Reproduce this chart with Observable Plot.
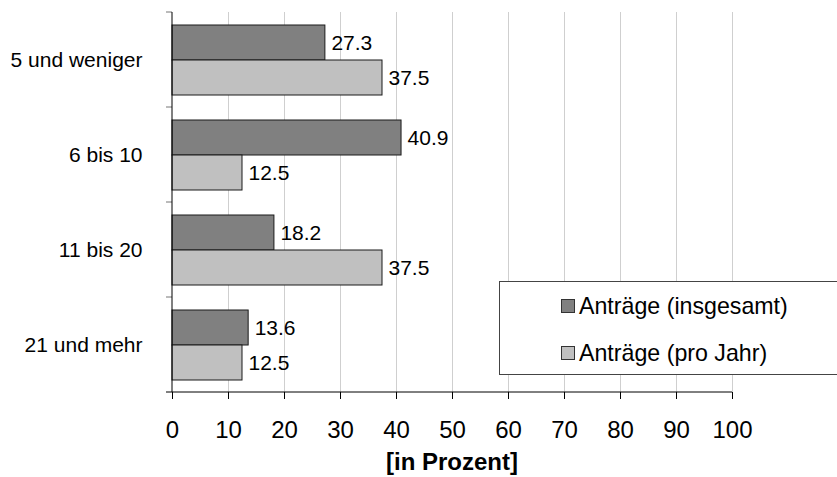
<!DOCTYPE html>
<html>
<head>
<meta charset="utf-8">
<script src="https://cdn.jsdelivr.net/npm/d3@7"></script>
<script src="https://cdn.jsdelivr.net/npm/@observablehq/plot@0.6"></script>
<style>
  body { margin: 0; background: #fff; }
  #wrap { position: relative; width: 837px; height: 477px; overflow: hidden; font-family: "Liberation Sans", Arial, sans-serif; }
  #legend { position: absolute; left: 499px; top: 281px; width: 360px; height: 94px; border: 1px solid #444; background: #fff; box-sizing: border-box; }
  .item { position: absolute; left: 61px; height: 24px; display: flex; align-items: center; font-size: 23.2px; color: #000; white-space: nowrap; }
  .sw { width: 14px; height: 14px; border: 1px solid #333; margin-right: 4px; box-sizing: border-box; }
</style>
</head>
<body>
<div id="wrap"></div>
<script>
const categories = ["5 und weniger", "6 bis 10", "11 bis 20", "21 und mehr"];
const seriesNames = ["Anträge (insgesamt)", "Anträge (pro Jahr)"];
const insgesamt = [27.3, 40.9, 18.2, 13.6];
const proJahr = [37.5, 12.5, 37.5, 12.5];
const xTicks = [0, 10, 20, 30, 40, 50, 60, 70, 80, 90, 100];
const seriesColors = ["#808080", "#c0c0c0"];
const axisTitle = "[in Prozent]";

const data = categories.flatMap((c, i) => [
  {cat: c, series: seriesNames[0], value: insgesamt[i]},
  {cat: c, series: seriesNames[1], value: proJahr[i]}
]);

const plot = Plot.plot({
  width: 837,
  height: 477,
  marginLeft: 172,
  marginRight: 105,
  marginTop: 10,
  marginBottom: 84,
  style: {fontFamily: "'Liberation Sans', Arial, sans-serif", color: "#000", background: "transparent"},
  x: {domain: [0, 100]},
  fy: {domain: categories, padding: 0, label: null},
  y: {domain: seriesNames, paddingInner: 0, paddingOuter: 0.35, axis: null},
  color: {domain: seriesNames, range: seriesColors},
  marks: [
    Plot.gridX(xTicks.filter(d => d > 0), {stroke: "#cfcfcf", strokeOpacity: 1}),
    Plot.barX(data, {fy: "cat", y: "series", x: "value", fill: "series", stroke: "#1a1a1a", strokeWidth: 1}),
    Plot.text(data, {fy: "cat", y: "series", x: "value", text: d => d.value.toFixed(1), textAnchor: "start", dx: 6, fontSize: 21, fill: "#000"}),
    Plot.axisX({ticks: xTicks, tickSize: 7, tickPadding: 21, fontSize: 24, label: null}),
    Plot.axisFy({anchor: "left", tickSize: 0, tickPadding: 30, fontSize: 21, label: null})
  ]
});

const wrap = document.getElementById("wrap");
wrap.appendChild(plot);

// axis lines, boundary ticks and axis title using the plot's scales
const xs = plot.scale("x");
const fys = plot.scale("fy");
const svg = d3.select(plot);
const xStart = xs.apply(0), xEnd = xs.apply(100);
const yTop = fys.apply(categories[0]);
const yBottom = fys.apply(categories[categories.length - 1]) + fys.bandwidth;
const g = svg.append("g");
categories.forEach(c => {
  const yy = fys.apply(c);
  g.append("line").attr("x1", xStart - 6).attr("x2", xStart).attr("y1", yy).attr("y2", yy).attr("stroke", "#777");
});
g.append("line").attr("x1", xStart - 6).attr("x2", xEnd).attr("y1", yBottom).attr("y2", yBottom).attr("stroke", "#000");
g.append("line").attr("x1", xStart).attr("x2", xStart).attr("y1", yTop).attr("y2", yBottom).attr("stroke", "#000");
g.append("text")
  .attr("x", (xStart + xEnd) / 2).attr("y", 470)
  .attr("text-anchor", "middle")
  .attr("font-size", 24).attr("font-weight", "bold")
  .attr("fill", "#000")
  .text(axisTitle);

// legend
const legend = document.createElement("div");
legend.id = "legend";
const rowTops = [12, 59];
seriesNames.forEach((name, i) => {
  const item = document.createElement("div");
  item.className = "item";
  item.style.top = rowTops[i] + "px";
  const sw = document.createElement("span");
  sw.className = "sw";
  sw.style.background = seriesColors[i];
  const tx = document.createElement("span");
  tx.textContent = name;
  item.appendChild(sw);
  item.appendChild(tx);
  legend.appendChild(item);
});
wrap.appendChild(legend);
</script>
</body>
</html>
